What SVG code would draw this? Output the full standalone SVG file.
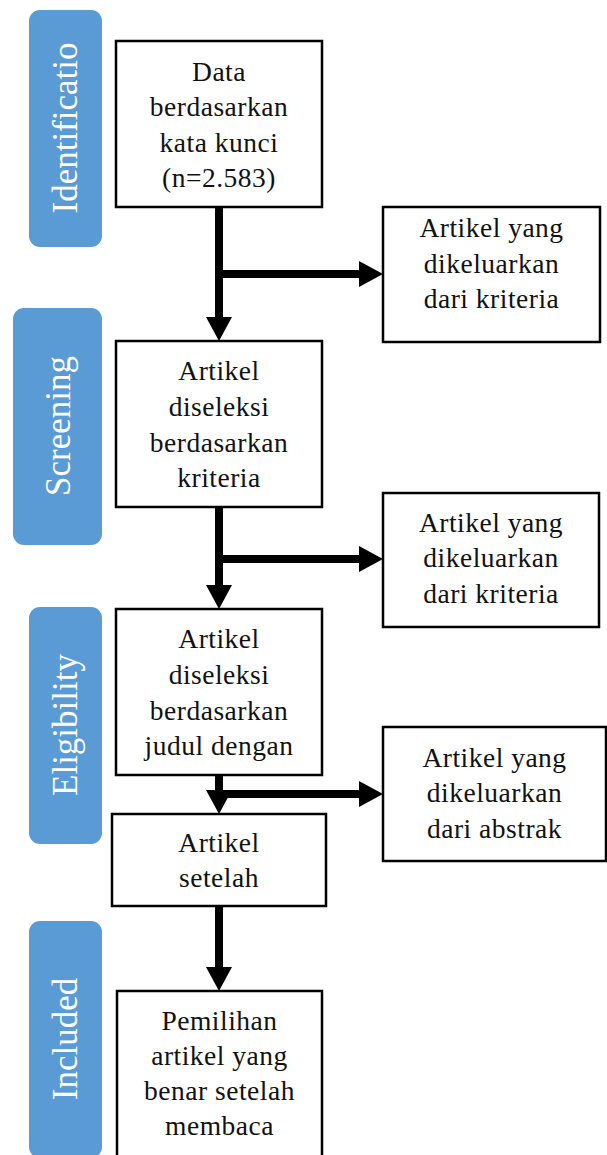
<svg xmlns="http://www.w3.org/2000/svg" width="607" height="1155" viewBox="0 0 607 1155">
<style>
.side{fill:#5B9BD5;}
.sidetxt{font-family:"Liberation Serif","Times New Roman",serif;font-size:35px;fill:#ffffff;text-anchor:middle;}
.box{fill:#ffffff;stroke:#000;stroke-width:2.5;}
.txt{font-family:"Liberation Serif","Times New Roman",serif;font-size:27.5px;fill:#111;text-anchor:middle;letter-spacing:0.5px;}
.conn{stroke:#000;stroke-width:8;fill:none;}
</style>
<defs>
<marker id="ah" markerUnits="userSpaceOnUse" markerWidth="24" markerHeight="26" refX="2" refY="13" orient="auto">
<path d="M0,0 L24,13 L0,26 z" fill="#000"/>
</marker>
</defs>
<rect width="607" height="1155" fill="#ffffff"/>

<g id="phase-identification">
<rect class="side" x="29" y="10" width="73" height="237" rx="11"/>
<text class="sidetxt" transform="translate(77,128) rotate(-90)">Identificatio</text>
</g>
<g id="phase-screening">
<rect class="side" x="13" y="308" width="89" height="237" rx="11"/>
<text class="sidetxt" transform="translate(70,426) rotate(-90)">Screening</text>
</g>
<g id="phase-eligibility">
<rect class="side" x="29" y="607" width="73" height="237" rx="11"/>
<text class="sidetxt" transform="translate(77,725) rotate(-90)">Eligibility</text>
</g>
<g id="phase-included">
<rect class="side" x="29" y="921" width="73" height="237" rx="11"/>
<text class="sidetxt" transform="translate(77,1039) rotate(-90)">Included</text>
</g>

<g id="connectors">
<line class="conn" x1="219" y1="207" x2="219" y2="319" marker-end="url(#ah)"/>
<line class="conn" x1="215" y1="274" x2="361" y2="274" marker-end="url(#ah)"/>
<line class="conn" x1="219" y1="507" x2="219" y2="587" marker-end="url(#ah)"/>
<line class="conn" x1="215" y1="559" x2="361" y2="559" marker-end="url(#ah)"/>
<line class="conn" x1="219" y1="775" x2="219" y2="792" marker-end="url(#ah)"/>
<line class="conn" x1="226" y1="794" x2="361" y2="794" marker-end="url(#ah)"/>
<line class="conn" x1="219" y1="906" x2="219" y2="969" marker-end="url(#ah)"/>
</g>

<g id="node-data">
<rect class="box" x="116" y="41" width="206" height="166"/>
<text class="txt" x="219" y="81">Data</text>
<text class="txt" x="219" y="116">berdasarkan</text>
<text class="txt" x="219" y="152">kata kunci</text>
<text class="txt" x="219" y="187">(n=2.583)</text>
</g>
<g id="node-excluded-1">
<rect class="box" x="383" y="207" width="217" height="135"/>
<text class="txt" x="491.5" y="237">Artikel yang</text>
<text class="txt" x="491.5" y="273">dikeluarkan</text>
<text class="txt" x="491.5" y="308">dari kriteria</text>
</g>
<g id="node-screening">
<rect class="box" x="116" y="341" width="206" height="166"/>
<text class="txt" x="219" y="380">Artikel</text>
<text class="txt" x="219" y="416">diseleksi</text>
<text class="txt" x="219" y="452">berdasarkan</text>
<text class="txt" x="219" y="487">kriteria</text>
</g>
<g id="node-excluded-2">
<rect class="box" x="383" y="493" width="216" height="134"/>
<text class="txt" x="491" y="532">Artikel yang</text>
<text class="txt" x="491" y="567">dikeluarkan</text>
<text class="txt" x="491" y="603">dari kriteria</text>
</g>
<g id="node-eligibility">
<rect class="box" x="116" y="609" width="206" height="166"/>
<text class="txt" x="219" y="648">Artikel</text>
<text class="txt" x="219" y="684">diseleksi</text>
<text class="txt" x="219" y="720">berdasarkan</text>
<text class="txt" x="219" y="755">judul dengan</text>
</g>
<g id="node-setelah">
<rect class="box" x="112" y="814" width="214" height="92"/>
<text class="txt" x="219" y="852">Artikel</text>
<text class="txt" x="219" y="887">setelah</text>
</g>
<g id="node-excluded-3">
<rect class="box" x="383" y="727" width="223" height="134"/>
<text class="txt" x="494.5" y="767">Artikel yang</text>
<text class="txt" x="494.5" y="802">dikeluarkan</text>
<text class="txt" x="494.5" y="838">dari abstrak</text>
</g>
<g id="node-included">
<rect class="box" x="117" y="991" width="205" height="170"/>
<text class="txt" x="219.5" y="1030">Pemilihan</text>
<text class="txt" x="219.5" y="1065">artikel yang</text>
<text class="txt" x="219.5" y="1100">benar setelah</text>
<text class="txt" x="219.5" y="1135">membaca</text>
</g>
</svg>
